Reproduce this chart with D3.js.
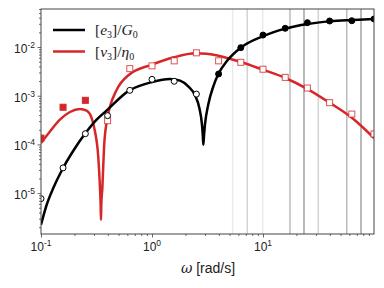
<!DOCTYPE html>
<html>
<head>
<meta charset="utf-8">
<script src="https://cdn.jsdelivr.net/npm/d3@7"></script>
<style>
body { margin: 0; background: #fff; }
</style>
</head>
<body>
<div id="output"></div>
<script>
// measured frequencies and the two normalised harmonics
var omega = [0.1, 0.158, 0.251, 0.398, 0.631, 1, 1.585, 2.512, 3.981, 6.31, 10, 15.85, 25.12, 39.81, 63.1, 100];
var e3Data = [7.7e-6, 3.3e-5, 1.66e-4, 3.9e-4, 1.29e-3, 2.17e-3, 1.98e-3, 1.08e-3, 2.8e-3, 9.7e-3, 0.0176, 0.0242, 0.0316, 0.0342, 0.0347, 0.0376];
var e3Positive = [0, 0, 0, 0, 0, 0, 0, 0, 1, 1, 1, 1, 1, 1, 1, 1];
var v3Data = [1.35e-4, 5.8e-4, 8.05e-4, 3.07e-4, 3.6e-3, 4.1e-3, 5.2e-3, 7.6e-3, 5.2e-3, 4.85e-3, 3.5e-3, 2.38e-3, 1.44e-3, 7.2e-4, 4.2e-4, 1.64e-4];
var v3Positive = [1, 1, 1, 0, 0, 0, 0, 0, 0, 0, 0, 0, 0, 0, 0, 0];

// model curves (absolute value)
var e3FitOmega = [0.1, 0.1125, 0.129, 0.1567, 0.1955, 0.252, 0.317, 0.391, 0.621, 1.0, 1.45, 1.79, 2.12, 2.44, 2.67, 2.82, 2.87, 2.90, 2.94, 3.0, 3.21, 3.57, 3.96, 4.71, 6.25, 9.93, 15.9, 25.2, 40.2, 65.2, 100];
var e3Fit = [2.24e-6, 5.78e-6, 1.27e-5, 3.17e-5, 7.43e-5, 1.71e-4, 3.22e-4, 5.0e-4, 1.27e-3, 1.91e-3, 2.2e-3, 2.04e-3, 1.56e-3, 1.02e-3, 5.59e-4, 2.54e-4, 1.5e-4, 9.9e-5, 1.5e-4, 2.54e-4, 6.55e-4, 1.56e-3, 2.79e-3, 5.08e-3, 9.53e-3, 0.01656, 0.0238, 0.0296, 0.0336, 0.0358, 0.0376];
var v3FitOmega = [0.1, 0.1205, 0.148, 0.1823, 0.2245, 0.2576, 0.286, 0.3065, 0.3285, 0.34, 0.3445, 0.347, 0.3495, 0.357, 0.3695, 0.391, 0.419, 0.481, 0.621, 1.0, 1.57, 2.47, 3.11, 3.96, 6.34, 9.93, 15.9, 25.2, 40.2, 65.2, 100];
var v3Fit = [1.07e-4, 1.85e-4, 3.22e-4, 4.63e-4, 5.33e-4, 4.93e-4, 3.48e-4, 1.85e-4, 5.26e-5, 1.27e-5, 6.0e-6, 2.84e-6, 6.0e-6, 1.27e-5, 8.43e-5, 2.98e-4, 6.05e-4, 1.33e-3, 2.7e-3, 4.34e-3, 6.14e-3, 7.41e-3, 7.3e-3, 6.64e-3, 4.92e-3, 3.43e-3, 2.31e-3, 1.37e-3, 7.08e-4, 3.33e-4, 1.35e-4];

// vertical reference lines and their weight
var harmonics = [5.33, 7.21, 9.94, 17.5, 23.4, 31.5, 56.8, 76.4];
var harmonicWeight = [1, 2, 1, 3, 4, 2, 3, 4];

var xTicks = [0.1, 1, 10];
var xTickExp = ['-1', '0', '1'];
var yTicks = [1e-5, 1e-4, 1e-3, 1e-2];
var yTickExp = ['-5', '-4', '-3', '-2'];

var w = 384, h = 288;
var mLeft = 41, mRight = 374, mTop = 9, mBottom = 234;

var svg = d3.select('#output').append('svg')
  .attr('width', w)
  .attr('height', h)
  .style('font-family', 'Liberation Sans, Arial, sans-serif');

var x = d3.scaleLog().domain([0.1, 100]).range([mLeft, mRight]);
var y = d3.scaleLog().domain([1.45e-6, 0.0603]).range([mBottom, mTop]);

svg.append('clipPath').attr('id', 'plot')
  .append('rect')
  .attr('x', mLeft).attr('y', mTop)
  .attr('width', mRight - mLeft).attr('height', mBottom - mTop);

var plot = svg.append('g').attr('clip-path', 'url(#plot)');

// grey vertical lines
var shade = d3.scaleLinear().domain([1, 4]).range([0.1, 0.45]);
plot.selectAll('line.harm')
  .data(harmonics)
  .enter()
  .append('line')
  .attr('class', 'harm')
  .attr('x1', function(d) { return x(d); })
  .attr('x2', function(d) { return x(d); })
  .attr('y1', mTop).attr('y2', mBottom)
  .attr('stroke', '#333')
  .attr('stroke-opacity', function(d, i) { return shade(harmonicWeight[i]); })
  .attr('stroke-width', 1.5);

var line = d3.line()
  .x(function(d) { return x(d[0]); })
  .y(function(d) { return y(d[1]); })
  .curve(d3.curveMonotoneX);

plot.append('path')
  .datum(d3.zip(v3FitOmega, v3Fit))
  .attr('d', line)
  .attr('fill', 'none')
  .attr('stroke', '#d62728')
  .attr('stroke-width', 2.5);

plot.append('path')
  .datum(d3.zip(e3FitOmega, e3Fit))
  .attr('d', line)
  .attr('fill', 'none')
  .attr('stroke', '#000')
  .attr('stroke-width', 2.5);

// markers
plot.selectAll('rect.v3')
  .data(v3Data)
  .enter()
  .append('rect')
  .attr('class', 'v3')
  .attr('x', function(d, i) { return x(omega[i]) - 3; })
  .attr('y', function(d) { return y(d) - 3; })
  .attr('width', 6).attr('height', 6)
  .attr('fill', function(d, i) { return v3Positive[i] ? '#d62728' : '#fff'; })
  .attr('stroke', '#d62728')
  .attr('stroke-opacity', function(d, i) { return v3Positive[i] ? 1 : 0.8; })
  .attr('stroke-width', 1);

plot.selectAll('circle.e3')
  .data(e3Data)
  .enter()
  .append('circle')
  .attr('class', 'e3')
  .attr('cx', function(d, i) { return x(omega[i]); })
  .attr('cy', function(d) { return y(d); })
  .attr('r', 3)
  .attr('fill', function(d, i) { return e3Positive[i] ? '#000' : '#fff'; })
  .attr('stroke', '#000')
  .attr('stroke-width', 1);

// axes
var xMinor = [], yMinor = [];
[0.1, 1, 10].forEach(function(b) { for (var k = 2; k <= 9; k++) xMinor.push(b * k); });
[1e-6, 1e-5, 1e-4, 1e-3, 1e-2].forEach(function(b) {
  for (var k = 2; k <= 9; k++) { var v = b * k; if (v >= 1.45e-6 && v <= 0.0603) yMinor.push(v); }
});

var ax = svg.append('g').attr('transform', 'translate(0,' + mBottom + ')');
ax.call(d3.axisBottom(x).tickValues(xMinor).tickSize(2).tickFormat(''));
ax.append('g').call(d3.axisBottom(x).tickValues(xTicks).tickSize(3.5).tickFormat(''));
var ay = svg.append('g').attr('transform', 'translate(' + mLeft + ',0)');
ay.call(d3.axisLeft(y).tickValues(yMinor).tickSize(2).tickFormat(''));
ay.append('g').call(d3.axisLeft(y).tickValues(yTicks).tickSize(3.5).tickFormat(''));
svg.selectAll('.domain').remove();
svg.selectAll('.tick line').attr('stroke', '#444').attr('stroke-width', 0.8);

svg.append('rect')
  .attr('x', mLeft).attr('y', mTop)
  .attr('width', mRight - mLeft).attr('height', mBottom - mTop)
  .attr('fill', 'none')
  .attr('stroke', '#444')
  .attr('stroke-width', 1);

// tick labels with superscripts
xTicks.forEach(function(t, i) {
  var tx = svg.append('text')
    .attr('x', x(t)).attr('y', 251)
    .attr('text-anchor', 'middle')
    .attr('font-size', 12).attr('fill', '#222');
  tx.append('tspan').text('10');
  tx.append('tspan').attr('dy', -5).attr('font-size', 8.5).text(xTickExp[i]);
});
yTicks.forEach(function(t, i) {
  var ty = svg.append('text')
    .attr('x', 35).attr('y', y(t) + 6)
    .attr('text-anchor', 'end')
    .attr('font-size', 12).attr('fill', '#222');
  ty.append('tspan').text('10');
  ty.append('tspan').attr('dy', -5).attr('font-size', 8.5).text(yTickExp[i]);
});

var xl = svg.append('text')
  .attr('x', 208).attr('y', 273)
  .attr('text-anchor', 'middle')
  .attr('font-size', 14).attr('fill', '#222');
xl.append('tspan').attr('font-style', 'italic').attr('font-family', 'DejaVu Serif, serif').text('ω');
xl.append('tspan').text(' [rad/s]');

// legend
var legend = [
  { color: '#000', sym: 'e', den: 'G' },
  { color: '#d62728', sym: 'v', den: 'η' }
];
legend.forEach(function(d, i) {
  var ly = 30 + i * 21.5;
  svg.append('line')
    .attr('x1', 53).attr('x2', 85)
    .attr('y1', ly).attr('y2', ly)
    .attr('stroke', d.color).attr('stroke-width', 2.5);
  var t = svg.append('text')
    .attr('x', 95).attr('y', ly + 5)
    .attr('font-family', 'Liberation Serif, serif')
    .attr('font-size', 15.5).attr('fill', '#222');
  t.append('tspan').text('[');
  t.append('tspan').attr('font-style', 'italic').text(d.sym);
  t.append('tspan').attr('font-size', 10).attr('dy', 3).text('3');
  t.append('tspan').attr('dy', -3).text(']/');
  t.append('tspan').attr('font-style', 'italic').text(d.den);
  t.append('tspan').attr('font-size', 10).attr('dy', 3).text('0');
});
</script>
</body>
</html>
